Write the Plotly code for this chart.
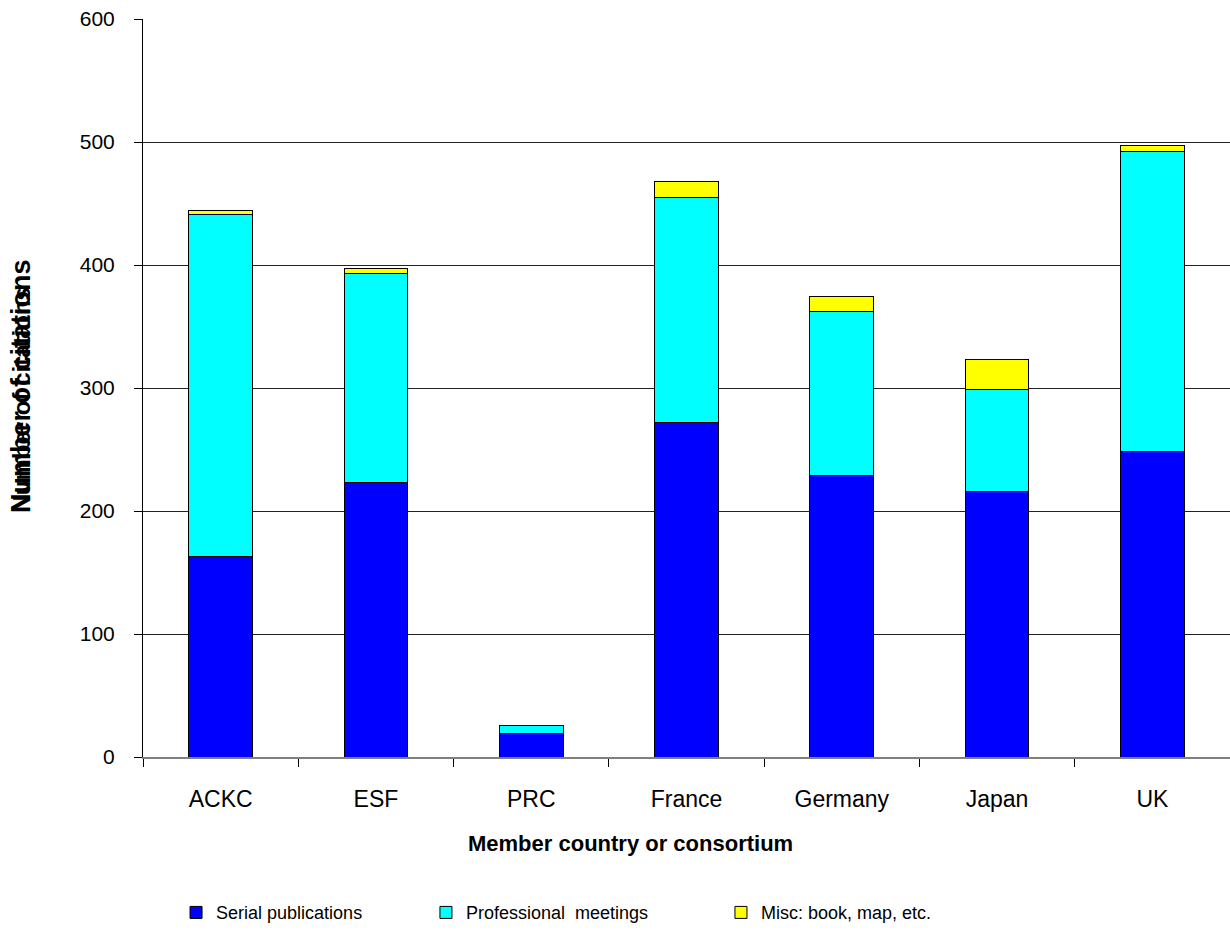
import plotly.graph_objects as go

categories = ["ACKC", "ESF", "PRC", "France", "Germany", "Japan", "UK"]
serial = [163, 223, 19, 272, 229, 216, 248]
professional = [278, 170, 7, 183, 133, 83, 244]
misc = [3, 4, 0, 13, 12, 24, 5]

series_names = ["Serial publications", "Professional  meetings", "Misc: book, map, etc."]
colors = ["#0000FF", "#00FFFF", "#FFFF00"]
legend_ids = ["legend", "legend2", "legend3"]
legend_x = [0.0304, 0.2603, 0.5317]

FONT = "Arial, Liberation Sans, sans-serif"

fig = go.Figure()
for name, vals, col, lid in zip(series_names, [serial, professional, misc], colors, legend_ids):
    fig.add_trace(go.Bar(
        x=categories, y=vals, name=name, legend=lid,
        marker=dict(color=col, line=dict(color="#000000", width=1)),
    ))

legend_common = dict(orientation="h", xanchor="left", y=-0.211, yanchor="middle",
                     font=dict(family=FONT, size=18, color="#000"), bgcolor="rgba(0,0,0,0)")

fig.update_layout(
    barmode="stack",
    bargap=0.59,
    width=1230, height=932,
    margin=dict(l=143, r=0, t=19, b=175),
    paper_bgcolor="white",
    plot_bgcolor="white",
    font=dict(family=FONT, color="#000000", size=18),
    showlegend=True,
    legend=dict(x=legend_x[0], **legend_common),
    legend2=dict(x=legend_x[1], **legend_common),
    legend3=dict(x=legend_x[2], **legend_common),
    xaxis=dict(
        tickson="boundaries", ticks="outside", ticklen=8, tickcolor="#000",
        showline=True, linecolor="#808080", linewidth=2,
        tickfont=dict(size=23, family=FONT),
        ticklabelstandoff=20,
        showgrid=False,
    ),
    yaxis=dict(
        range=[0, 600], dtick=100, ticks="outside", ticklen=8, tickcolor="#000",
        showline=True, linecolor="#000", linewidth=1,
        gridcolor="#222222", gridwidth=1,
        zeroline=False,
        tickfont=dict(size=21, family=FONT),
        ticklabelstandoff=15,
    ),
    annotations=[
        dict(text="<b>Member country or consortium</b>", xref="paper", yref="paper",
             x=(630 - 143) / 1087, y=(757 - 843) / 738, xanchor="center", yanchor="middle",
             showarrow=False, font=dict(size=22, family=FONT)),
        dict(text="<b>Number of citations</b>", xref="paper", yref="paper",
             x=(21 - 143) / 1087, y=(757 - 515) / 738, xanchor="center", yanchor="bottom",
             textangle=-90, showarrow=False, font=dict(size=24, family=FONT)),
        dict(text="<b>Number of citations</b>", xref="paper", yref="paper",
             x=(21 - 143) / 1087, y=(757 - 515) / 738, xanchor="center", yanchor="bottom",
             textangle=-90, showarrow=False, font=dict(size=27, family=FONT)),
    ],
)

fig.write_html("out.html")
